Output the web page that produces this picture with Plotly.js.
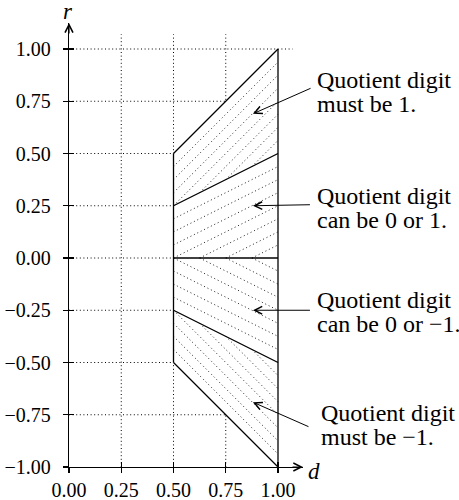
<!DOCTYPE html>
<html>
<head>
<meta charset="utf-8">
<script src="https://cdn.plot.ly/plotly-3.0.1.min.js"></script>
<style>
  html, body { margin: 0; padding: 0; background: #fff; }
  #chart { width: 459px; height: 500px; }
</style>
</head>
<body>
<div id="chart"></div>
<script>
// Divisor d (horizontal) against partial remainder r (vertical)
const dTicks = [0, 0.25, 0.5, 0.75, 1];
const rTicks = [-1, -0.75, -0.5, -0.25, 0, 0.25, 0.5, 0.75, 1];

// Divisor interval covered by the selection regions
const dSpan = [0.5, 1];
// Region borders are the lines r = k·d
const borderSlopes = [1, 0.5, 0, -0.5, -1];

// Shaded bands: slope of the outer border and of the inner border
const bandOuter = [1, 0.5, -0.5, -1];
const bandInner = [0.5, 0, 0, -0.5];
// Offsets of the dotted hatch lines inside each band
const hatchOffsets = [0.0625, 0.125, 0.1875, 0.25, 0.3125, 0.375, 0.4375];

// Grid extends a little past the last tick at the top
const gridReach = 1.07;

// Callout labels (two lines each)
const labelLine1 = ['Quotient digit', 'Quotient digit', 'Quotient digit', 'Quotient digit'];
const labelLine2 = ['must be 1.', 'can be 0 or 1.', 'can be 0 or \u22121.', 'must be \u22121.'];
const labelD = [1.178, 1.178, 1.178, 1.197];
const labelR = [0.795, 0.24, -0.257, -0.80];
const tipD = [0.88, 0.88, 0.88, 0.88];
const tipR = [0.69, 0.25, -0.25, -0.69];
const tailD = [1.163, 1.16, 1.16, 1.153];
const tailR = [0.815, 0.255, -0.25, -0.81];

const FONT = 'Liberation Serif, Times New Roman, serif';
const X_MAX = 1.1196;
const Y_MIN = -1, Y_MAX = 1.1244;
// data -> paper fractions, for text placed outside the axis ranges
const toPaperX = d => d / X_MAX;
const toPaperY = r => (r - Y_MIN) / (Y_MAX - Y_MIN);

const traces = [];

// Dotted grid
const gx = [], gy = [];
dTicks.filter(v => v > 0 && v < 1).forEach(v => { gx.push(v, v, null); gy.push(Y_MIN, gridReach, null); });
rTicks.filter(v => v > Y_MIN).forEach(v => {
  gx.push(0, v === 1 ? gridReach : 1, null); gy.push(v, v, null);
});
traces.push({x: gx, y: gy, mode: 'lines', line: {color: '#000', width: 1, dash: '1px,2.6px'}, hoverinfo: 'skip'});

// White trapezoid hides the grid under the shaded regions
const kTop = Math.max(...borderSlopes), kBot = Math.min(...borderSlopes);
traces.push({
  x: [dSpan[0], dSpan[1], dSpan[1], dSpan[0], dSpan[0]],
  y: [kBot * dSpan[0], kBot * dSpan[1], kTop * dSpan[1], kTop * dSpan[0], kBot * dSpan[0]],
  mode: 'lines', fill: 'toself', fillcolor: '#fff', line: {width: 0}, hoverinfo: 'skip'
});

// Dotted hatching, parallel to each band's outer border
bandOuter.forEach((ko, i) => {
  const ki = bandInner[i], s = Math.sign(ko);
  const hx = [], hy = [];
  hatchOffsets.forEach(c => {
    const d0 = Math.max(dSpan[0], c / Math.abs(ko - ki));
    const d1 = dSpan[1];
    hx.push(d0, d1, null);
    hy.push(ko * d0 - s * c, ko * d1 - s * c, null);
  });
  traces.push({x: hx, y: hy, mode: 'lines', line: {color: '#222', width: 1, dash: '1px,2.8px'}, hoverinfo: 'skip'});
});

// Solid region borders
const bx = [], by = [];
borderSlopes.forEach(k => { bx.push(dSpan[0], dSpan[1], null); by.push(k * dSpan[0], k * dSpan[1], null); });
bx.push(dSpan[0], dSpan[0], null); by.push(kBot * dSpan[0], kTop * dSpan[0], null);
bx.push(dSpan[1], dSpan[1], null); by.push(kBot * dSpan[1], kTop * dSpan[1], null);
traces.push({x: bx, y: by, mode: 'lines', line: {color: '#000', width: 1.3}, hoverinfo: 'skip'});

// Empty trace on the overlay axes that carry the inner half of the ticks
traces.push({x: [], y: [], xaxis: 'x2', yaxis: 'y2', mode: 'lines', hoverinfo: 'skip'});

const annotations = [];
// Axis arrows and names
annotations.push({x: X_MAX, y: Y_MIN, xref: 'x', yref: 'y', ax: -12, ay: 0, text: '', showarrow: true,
  arrowhead: 5, arrowsize: 1.3, arrowwidth: 1.2, arrowcolor: '#000'});
annotations.push({x: 0, y: Y_MAX, xref: 'x', yref: 'y', ax: 0, ay: 12, text: '', showarrow: true,
  arrowhead: 5, arrowsize: 1.3, arrowwidth: 1.2, arrowcolor: '#000'});
annotations.push({x: toPaperX(-0.005), y: toPaperY(1.18), xref: 'paper', yref: 'paper', text: '<i>r</i>', showarrow: false,
  xanchor: 'center', yanchor: 'middle', font: {family: FONT, size: 23, color: '#000'}});
annotations.push({x: toPaperX(1.17), y: toPaperY(-1.02), xref: 'paper', yref: 'paper', text: '<i>d</i>', showarrow: false,
  xanchor: 'center', yanchor: 'middle', font: {family: FONT, size: 23, color: '#000'}});

// Callouts
const labelFont = {family: FONT, size: 24, color: '#000'};
labelLine1.forEach((t, i) => {
  [[t, 12], [labelLine2[i], -12]].forEach(([line, shift]) => {
    annotations.push({x: toPaperX(labelD[i]), y: toPaperY(labelR[i]), xref: 'paper', yref: 'paper',
      text: line, showarrow: false, xanchor: 'left', yanchor: 'middle', yshift: shift, font: labelFont});
  });
  annotations.push({x: tipD[i], y: tipR[i], xref: 'x', yref: 'y', axref: 'x', ayref: 'y',
    ax: tailD[i], ay: tailR[i], text: '', showarrow: true, arrowhead: 5, arrowsize: 1.5,
    arrowwidth: 1, arrowcolor: '#000', standoff: 0, startstandoff: 0});
});

const axisCommon = {
  showgrid: false, zeroline: false, fixedrange: true,
  ticks: 'outside', ticklen: 5, tickwidth: 1.2, tickcolor: '#000',
  showline: true, linecolor: '#000', linewidth: 1.3,
  tickformat: '.2f', tickfont: {family: FONT, size: 20, color: '#000'}
};

const layout = {
  width: 459, height: 500,
  margin: {l: 69, r: 156, t: 23, b: 33, pad: 0},
  paper_bgcolor: '#fff', plot_bgcolor: '#fff',
  showlegend: false, hovermode: false,
  xaxis: Object.assign({}, axisCommon, {range: [0, X_MAX], tickvals: dTicks, anchor: 'y'}),
  yaxis: Object.assign({}, axisCommon, {range: [Y_MIN, Y_MAX], tickvals: rTicks, anchor: 'x', ticklabelstandoff: 8}),
  xaxis2: {overlaying: 'x', anchor: 'y', side: 'bottom', range: [0, X_MAX], tickvals: dTicks,
    ticks: 'inside', ticklen: 5, tickwidth: 1.2, tickcolor: '#000', showticklabels: false,
    showgrid: false, zeroline: false, showline: false, fixedrange: true},
  yaxis2: {overlaying: 'y', anchor: 'x', side: 'left', range: [Y_MIN, Y_MAX], tickvals: rTicks,
    ticks: 'inside', ticklen: 5, tickwidth: 1.2, tickcolor: '#000', showticklabels: false,
    showgrid: false, zeroline: false, showline: false, fixedrange: true},
  annotations: annotations
};

Plotly.newPlot('chart', traces, layout, {staticPlot: true, displayModeBar: false});
</script>
</body>
</html>
